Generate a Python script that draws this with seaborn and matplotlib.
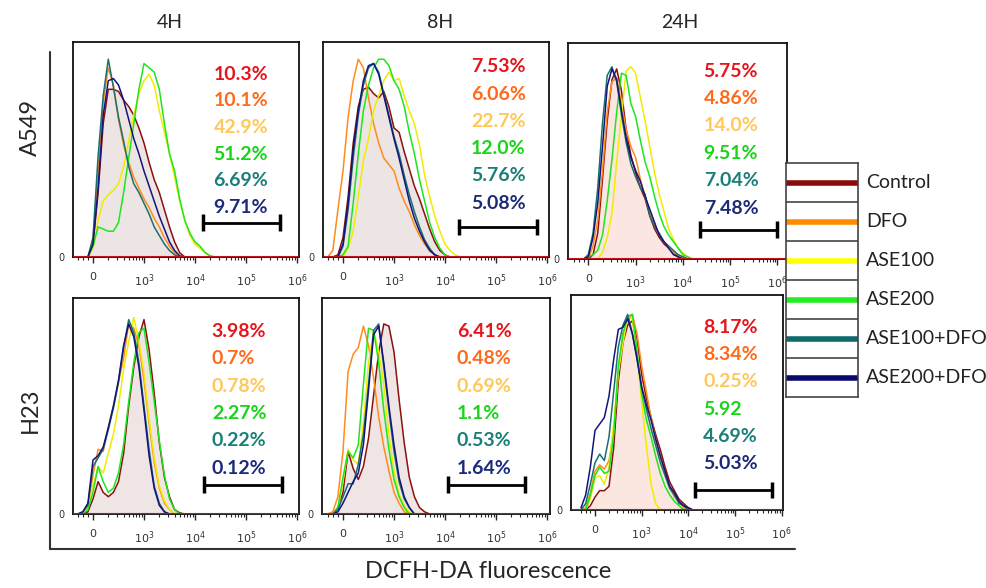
import numpy as np
import pandas as pd
import matplotlib.pyplot as plt
import seaborn as sns

sns.set_style('white')
plt.rcParams['font.family'] = ['Lato', 'DejaVu Sans']

# canal de fluorescencia (0 = "0", 1 = 10^3, 2 = 10^4 ...)
canal = [-0.3, -0.2, -0.1, 0.0, 0.1, 0.2, 0.3, 0.4, 0.5, 0.6, 0.7, 0.8, 0.9, 1.0,
         1.1, 1.2, 1.3, 1.4, 1.5, 1.6, 1.7, 1.8, 1.9, 2.0, 2.1, 2.2, 2.3, 2.4]

grupos = ['Control', 'DFO', 'ASE100', 'ASE200', 'ASE100+DFO', 'ASE200+DFO']

# A549 - 4H
a549_4h_control = [0, 0, 0, 6, 30, 62, 78, 78, 77, 73, 70, 66, 60, 53, 44, 36, 30, 22, 14, 7, 2, 0, 0, 0, 0, 0, 0, 0]
a549_4h_dfo = [0, 0, 0, 8, 40, 72, 88, 80, 64, 52, 44, 37, 32, 27, 23, 18, 14, 9, 5, 2, 0.5, 0, 0, 0, 0, 0, 0, 0]
a549_4h_ase100 = [0, 0, 0, 4, 17, 26, 29, 31, 34, 42, 54, 66, 76, 82, 85, 80, 68, 58, 48, 37, 26, 17, 10, 6, 4, 2, 0.5, 0]
a549_4h_ase200 = [0, 0, 0, 5, 14, 13, 12, 12, 16, 30, 46, 62, 78, 90, 88, 86, 78, 62, 48, 40, 27, 17, 11, 7, 5, 2, 0.5, 0]
a549_4h_ase100dfo = [0, 0, 0, 9, 47, 75, 92, 79, 65, 54, 42, 34, 30, 25, 20, 14, 10, 6, 3, 1, 0, 0, 0, 0, 0, 0, 0, 0]
a549_4h_ase200dfo = [0, 0, 0, 6, 32, 66, 82, 83, 80, 73, 64, 55, 48, 40, 33, 26, 19, 13, 7, 3, 0.5, 0, 0, 0, 0, 0, 0, 0]

# A549 - 8H
a549_8h_control = [0, 0, 1, 9, 28, 53, 70, 78, 79, 76, 74, 77, 70, 60, 58, 49, 41, 33, 27, 20, 13, 7, 3, 1, 0, 0, 0, 0]
a549_8h_dfo = [0, 3, 22, 40, 65, 82, 92, 88, 74, 62, 53, 46, 43, 40, 32, 26, 21, 15, 10, 6, 3, 1, 0, 0, 0, 0, 0, 0]
a549_8h_ase100 = [0, 0, 0, 0, 4, 12, 28, 45, 55, 68, 75, 82, 86, 82, 83, 75, 68, 62, 52, 38, 28, 19, 12, 6, 3, 1, 0, 0]
a549_8h_ase200 = [0, 0, 0, 1, 5, 25, 48, 68, 80, 88, 92, 92, 89, 82, 78, 70, 58, 48, 36, 26, 16, 9, 4, 1, 0, 0, 0, 0]
a549_8h_ase100dfo = [0, 0, 0, 5, 22, 46, 66, 80, 88, 90, 86, 76, 66, 56, 48, 38, 29, 21, 14, 8, 4, 1, 0, 0, 0, 0, 0, 0]
a549_8h_ase200dfo = [0, 0, 0, 6, 25, 50, 68, 82, 89, 90, 85, 75, 65, 55, 46, 36, 26, 18, 12, 7, 3, 1, 0, 0, 0, 0, 0, 0]

# A549 - 24H
a549_24h_control = [0, 0, 0, 0, 2, 12, 37, 64, 83, 88, 78, 60, 48, 40, 33, 28, 20, 14, 10, 7, 5, 3, 1, 0, 0, 0, 0, 0]
a549_24h_dfo = [0, 0, 0, 0, 6, 18, 41, 68, 82, 84, 72, 60, 52, 47, 37, 29, 22, 16, 11, 8, 5, 3, 2, 1, 0, 0, 0, 0]
a549_24h_ase100 = [0, 0, 0, 0, 0, 0, 3, 10, 21, 45, 66, 87, 89, 86, 75, 64, 52, 40, 30, 22, 14, 9, 5, 3, 1, 0, 0, 0]
a549_24h_ase200 = [0, 0, 0, 1, 2, 4, 11, 27, 46, 68, 86, 85, 72, 66, 55, 45, 38, 29, 21, 15, 11, 8, 5, 2, 1, 0, 0, 0]
a549_24h_ase100dfo = [0, 0, 0, 2, 12, 33, 63, 85, 89, 82, 67, 54, 44, 38, 33, 30, 20, 15, 12, 8, 6, 4, 2, 1, 0, 0, 0, 0]
a549_24h_ase200dfo = [0, 0, 0, 1, 10, 26, 52, 80, 88, 83, 69, 56, 47, 41, 36, 29, 23, 17, 11, 8, 5, 2, 1, 0, 0, 0, 0, 0]

# H23 - 4H
h23_4h_control = [0, 0, 1, 7, 15, 10, 8, 10, 15, 28, 50, 68, 82, 90, 76, 56, 33, 17, 8, 2, 0.5, 0, 0, 0, 0, 0, 0, 0]
h23_4h_dfo = [0, 0, 4, 18, 30, 29, 40, 50, 61, 72, 88, 86, 78, 62, 42, 24, 12, 5, 2, 0, 0, 0, 0, 0, 0, 0, 0, 0]
h23_4h_ase100 = [0, 0, 3, 13, 22, 19, 28, 37, 50, 67, 80, 91, 80, 65, 44, 26, 13, 6, 2, 0, 0, 0, 0, 0, 0, 0, 0, 0]
h23_4h_ase200 = [0, 0, 2, 10, 22, 15, 10, 12, 19, 32, 52, 70, 84, 86, 70, 52, 34, 18, 7, 2, 0, 0, 0, 0, 0, 0, 0, 0]
h23_4h_ase100dfo = [0, 1, 4, 22, 26, 30, 39, 49, 61, 77, 90, 84, 70, 50, 30, 13, 5, 1, 0, 0, 0, 0, 0, 0, 0, 0, 0, 0]
h23_4h_ase200dfo = [0, 1, 5, 25, 27, 31, 40, 50, 62, 78, 88, 82, 68, 48, 27, 12, 4, 1, 0, 0, 0, 0, 0, 0, 0, 0, 0, 0]

# H23 - 8H
h23_8h_control = [0, 0, 3, 10, 29, 21, 16, 22, 35, 55, 75, 88, 87, 75, 53, 33, 17, 8, 3, 1, 0, 0, 0, 0, 0, 0, 0, 0]
h23_8h_dfo = [0, 1, 8, 29, 66, 74, 77, 87, 78, 63, 45, 31, 20, 10, 5, 1, 0, 0, 0, 0, 0, 0, 0, 0, 0, 0, 0, 0]
h23_8h_ase100 = [0, 0, 2, 15, 30, 25, 23, 42, 70, 85, 75, 60, 37, 20, 9, 4, 1, 0, 0, 0, 0, 0, 0, 0, 0, 0, 0, 0]
h23_8h_ase200 = [0, 0, 3, 17, 29, 26, 32, 60, 86, 85, 70, 48, 30, 16, 8, 3, 0, 0, 0, 0, 0, 0, 0, 0, 0, 0, 0, 0]
h23_8h_ase100dfo = [0, 0, 2, 8, 14, 14, 23, 37, 60, 85, 88, 68, 48, 29, 15, 7, 3, 0, 0, 0, 0, 0, 0, 0, 0, 0, 0, 0]
h23_8h_ase200dfo = [0, 0, 1, 5, 10, 15, 19, 32, 57, 83, 87, 70, 50, 32, 17, 8, 3, 0, 0, 0, 0, 0, 0, 0, 0, 0, 0, 0]

# H23 - 24H
h23_24h_control = [0, 0, 2, 6, 9, 9, 11, 29, 60, 78, 86, 88, 80, 63, 52, 43, 35, 28, 20, 13, 9, 5, 3, 1, 0, 0, 0, 0]
h23_24h_dfo = [0, 1, 8, 18, 21, 19, 23, 36, 65, 82, 88, 91, 82, 67, 55, 43, 33, 25, 17, 11, 6, 4, 1, 0, 0, 0, 0, 0]
h23_24h_ase100 = [0, 0, 5, 15, 16, 12, 20, 40, 64, 78, 90, 89, 73, 50, 30, 12, 3, 0, 0, 0, 0, 0, 0, 0, 0, 0, 0, 0]
h23_24h_ase200 = [0, 0, 7, 16, 20, 17, 18, 35, 67, 82, 90, 91, 74, 54, 42, 34, 25, 17, 11, 7, 4, 2, 0, 0, 0, 0, 0, 0]
h23_24h_ase100dfo = [0, 3, 12, 22, 26, 23, 34, 55, 76, 86, 91, 82, 71, 57, 47, 38, 30, 22, 16, 10, 7, 3, 2, 0, 0, 0, 0, 0]
h23_24h_ase200dfo = [1, 7, 20, 37, 40, 43, 53, 70, 84, 85, 89, 82, 70, 57, 49, 42, 33, 25, 18, 11, 8, 4, 2, 1, 0, 0, 0, 0]

# porcentajes en cada panel
pct_a549_4h = ['10.3%', '10.1%', '42.9%', '51.2%', '6.69%', '9.71%']
pct_a549_8h = ['7.53%', '6.06%', '22.7%', '12.0%', '5.76%', '5.08%']
pct_a549_24h = ['5.75%', '4.86%', '14.0%', '9.51%', '7.04%', '7.48%']
pct_h23_4h = ['3.98%', '0.7%', '0.78%', '2.27%', '0.22%', '0.12%']
pct_h23_8h = ['6.41%', '0.48%', '0.69%', '1.1%', '0.53%', '1.64%']
pct_h23_24h = ['8.17%', '8.34%', '0.25%', '5.92', '4.69%', '5.03%']

# colores
col_lineas = ['#8B1010', '#FF8C1A', '#F0EC00', '#1EE61E', '#1A7070', '#14147A']
col_leyenda = ['#8B0A0A', '#FF8C00', '#FFFF00', '#22EE22', '#0F6B6B', '#0A0A6E']
col_pct = ['#E8141B', '#FF6A1A', '#FFC85A', '#19D419', '#1A7F78', '#1C2A7A']
col_relleno = ['#EDE4E4', '#EDE4E4', '#FBE6E2', '#EFE5E5', '#EFE5E5', '#FCE6E0']

paneles = [
    [a549_4h_control, a549_4h_dfo, a549_4h_ase100, a549_4h_ase200, a549_4h_ase100dfo, a549_4h_ase200dfo],
    [a549_8h_control, a549_8h_dfo, a549_8h_ase100, a549_8h_ase200, a549_8h_ase100dfo, a549_8h_ase200dfo],
    [a549_24h_control, a549_24h_dfo, a549_24h_ase100, a549_24h_ase200, a549_24h_ase100dfo, a549_24h_ase200dfo],
    [h23_4h_control, h23_4h_dfo, h23_4h_ase100, h23_4h_ase200, h23_4h_ase100dfo, h23_4h_ase200dfo],
    [h23_8h_control, h23_8h_dfo, h23_8h_ase100, h23_8h_ase200, h23_8h_ase100dfo, h23_8h_ase200dfo],
    [h23_24h_control, h23_24h_dfo, h23_24h_ase100, h23_24h_ase200, h23_24h_ase100dfo, h23_24h_ase200dfo],
]
porcentajes = [pct_a549_4h, pct_a549_8h, pct_a549_24h, pct_h23_4h, pct_h23_8h, pct_h23_24h]

# geometria de los paneles en pixeles de la imagen (987 x 588)
W, H = 987, 588
p_izq = [73, 323, 568, 73, 322, 571]
p_der = [299, 549, 787, 299, 550, 783]
p_arriba = [42, 42, 43, 298, 298, 295]
p_base = [257, 257, 259, 514, 514, 510]
p_cero = [93, 343, 588.3, 93, 343, 595]
p_decada = [51, 51, 47.3, 51, 51, 46.7]

# texto de porcentajes y barra de la region
txt_x = [2.36, 2.51, 2.44, 2.33, 2.23, 2.32]
txt_y0 = [85, 88.5, 87, 84.6, 84.6, 85]
txt_paso = [12.4, 12.7, 12.7, 12.7, 12.7, 12.7]
gate_ini = [2.15, 2.27, 2.36, 2.18, 2.05, 2.14]
gate_fin = [3.67, 3.80, 3.99, 3.70, 3.57, 3.79]
gate_y = [16, 14, 13.6, 13.6, 13.6, 9.3]

fig = plt.figure(figsize=(W / 100, H / 100), dpi=100)

menores = [-0.3, -0.2, -0.1] + [k + np.log10(m) for k in range(0, 4) for m in range(2, 10)]

for i, curvas in enumerate(paneles):
    ax = fig.add_axes([p_izq[i] / W, 1 - p_base[i] / H,
                       (p_der[i] - p_izq[i]) / W, (p_base[i] - p_arriba[i]) / H])
    df = pd.DataFrame({
        'canal': canal * len(grupos),
        'cuentas': [v for c in curvas for v in c],
        'grupo': [g for g in grupos for _ in canal],
    })
    ax.fill_between(canal, curvas[0], color=col_relleno[i], zorder=0, lw=0)
    sns.lineplot(data=df, x='canal', y='cuentas', hue='grupo', hue_order=grupos,
                 palette=col_lineas, estimator=None, sort=False, legend=False,
                 lw=1.1, ax=ax)
    ax.axhline(0, color='#C0141A', lw=1.5, zorder=3)

    ax.set_xlim((p_izq[i] - p_cero[i]) / p_decada[i], (p_der[i] - p_cero[i]) / p_decada[i])
    ax.set_ylim(0, 100)
    ax.set_xticks([0, 1, 2, 3, 4])
    ax.set_xticklabels(['0', r'$10^3$', r'$10^4$', r'$10^5$', r'$10^6$'], fontsize=8,
                       color='#333333', family='DejaVu Sans')
    ax.set_xticks([m for m in menores if m < 4], minor=True)
    ax.tick_params(axis='x', which='major', direction='out', length=4, width=1, pad=7, bottom=True)
    ax.tick_params(axis='x', which='minor', direction='out', length=2, width=0.8, bottom=True)
    ax.set_yticks([0])
    ax.set_yticklabels(['0'], fontsize=7, color='#333333', family='DejaVu Sans')
    ax.tick_params(axis='y', length=0, pad=6)
    ax.set_xlabel('')
    ax.set_ylabel('')
    for s in ax.spines.values():
        s.set_color('#111111')
        s.set_linewidth(1.3)

    for j, (t, c) in enumerate(zip(porcentajes[i], col_pct)):
        ax.text(txt_x[i], txt_y0[i] - j * txt_paso[i], t, color=c, fontsize=14,
                fontweight='bold', ha='left', va='center')

    ax.hlines(gate_y[i], gate_ini[i], gate_fin[i], color='black', lw=2)
    ax.vlines([gate_ini[i], gate_fin[i]], gate_y[i] - 3.8, gate_y[i] + 3.8, color='black', lw=2.5)

# titulos de columnas y filas
for x, t in zip([170, 440, 680], ['4H', '8H', '24H']):
    fig.text(x / W, 1 - 22 / H, t, fontsize=14, ha='center', va='center')
for y, t in zip([127, 410], ['A549', 'H23']):
    fig.text(30 / W, 1 - y / H, t, fontsize=17, rotation=90, ha='center', va='center')
fig.text(488 / W, 1 - 572 / H, 'DCFH-DA fluorescence', fontsize=17, ha='center', va='center')

# marco exterior
fig.add_artist(plt.Line2D([50 / W, 50 / W], [1 - 52 / H, 1 - 549 / H], color='#333333', lw=1.5))
fig.add_artist(plt.Line2D([50 / W, 795 / W], [1 - 549 / H, 1 - 549 / H], color='#333333', lw=1.5))

# leyenda
lax = fig.add_axes([786 / W, 1 - 397 / H, 72 / W, 234 / H])
lax.set_xlim(0, 1)
lax.set_ylim(6, 0)
lax.set_xticks([])
lax.set_yticks([])
for s in lax.spines.values():
    s.set_color('#444444')
    s.set_linewidth(1.2)
lax.hlines([1, 2, 3, 4, 5], 0, 1, color='#444444', lw=1.2)
for k, (g, c) in enumerate(zip(grupos, col_leyenda)):
    lax.plot([0, 1], [k + 0.5, k + 0.5], color=c, lw=4, solid_capstyle='butt')
    lax.text(1.11, k + 0.5, g, fontsize=14, ha='left', va='center', color='#222222',
             clip_on=False)

plt.savefig('out.png', dpi=100)
